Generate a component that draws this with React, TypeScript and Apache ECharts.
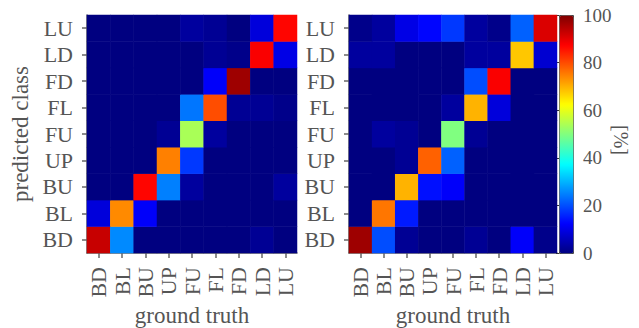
import React, { useEffect, useRef } from "react";
import * as echarts from "echarts";

const classes = ["BD", "BL", "BU", "UP", "FU", "FL", "FD", "LD", "LU"];
const colorbarTicks = [0, 20, 40, 60, 80, 100];

// rows = predicted class (bottom to top), columns = ground truth (left to right), in %
const leftMatrix: number[][] = [
  [93, 26, 0, 0, 0, 0, 0, 2, 0], // BD
  [9, 74, 12, 0, 0, 0, 0, 0, 0], // BL
  [0, 0, 87, 25, 3, 0, 0, 0, 3], // BU
  [0, 0, 0, 75, 18, 0, 0, 0, 0], // UP
  [0, 0, 0, 2, 54, 3, 0, 0, 0], // FU
  [0, 0, 0, 0, 24, 80, 2, 2, 1], // FL
  [0, 0, 0, 0, 0, 12, 97, 0, 0], // FD
  [0, 0, 0, 0, 0, 2, 1, 88, 10], // LD
  [0, 0, 0, 0, 3, 2, 0, 9, 87], // LU
];

const rightMatrix: number[][] = [
  [97, 20, 2, 0, 0, 2, 0, 12, 1], // BD
  [0, 76, 15, 0, 0, 0, 0, 0, 0], // BL
  [0, 0, 70, 14, 12, 0, 0, 0, 0], // BU
  [0, 0, 2, 78, 22, 0, 0, 0, 0], // UP
  [0, 3, 2, 0, 50, 2, 0, 0, 0], // FU
  [0, 0, 0, 0, 3, 70, 9, 0, 0], // FL
  [0, 0, 0, 0, 0, 20, 88, 0, 0], // FD
  [3, 3, 0, 0, 0, 3, 3, 68, 8], // LD
  [1, 3, 10, 13, 18, 3, 1, 22, 91], // LU
];

const jet = ["#000080", "#0000ff", "#0080ff", "#00ffff", "#80ff80", "#ffff00", "#ff8000", "#ff0000", "#800000"];

const toCells = (m: number[][]) => {
  const out: number[][] = [];
  m.forEach((row, y) => row.forEach((v, x) => out.push([x, y, v])));
  return out;
};

const FONT = "Liberation Serif";
const TXT = "#555";
const AX = "#666";

export default function App() {
  const ref = useRef<HTMLDivElement>(null);
  useEffect(() => {
    if (!ref.current) return;
    const chart = echarts.init(ref.current, undefined, { renderer: "svg" });
    const xAxisBase = (gridIndex: number) => ({
      type: "category" as const,
      gridIndex,
      data: classes,
      axisLine: { show: true, lineStyle: { color: AX, width: 1.5 } },
      axisTick: { show: true, alignWithLabel: true, interval: 0, length: 5, lineStyle: { color: AX, width: 1.5 } },
      axisLabel: { interval: 0, rotate: 90, margin: 14, fontFamily: FONT, fontSize: 22, color: TXT },
      splitLine: { show: false },
    });
    const yAxisBase = (gridIndex: number) => ({
      type: "category" as const,
      gridIndex,
      data: classes,
      axisLine: { show: true, lineStyle: { color: AX, width: 1.5 } },
      axisTick: { show: true, alignWithLabel: true, interval: 0, length: 5, lineStyle: { color: AX, width: 1.5 } },
      axisLabel: { interval: 0, margin: 14, fontFamily: FONT, fontSize: 22, color: TXT },
      splitLine: { show: false },
    });
    chart.setOption({
      animation: false,
      backgroundColor: "#fff",
      grid: [
        { left: 87, top: 15, width: 210, height: 238 },
        { left: 349, top: 15, width: 208, height: 238 },
        { left: 559, top: 15, width: 14, height: 238 },
      ],
      xAxis: [
        xAxisBase(0),
        xAxisBase(1),
        { type: "value", gridIndex: 2, show: false, min: 0, max: 1 },
      ],
      yAxis: [
        yAxisBase(0),
        yAxisBase(1),
        {
          type: "value",
          gridIndex: 2,
          position: "right",
          min: 0,
          max: 100,
          interval: 20,
          axisLine: { show: false },
          axisTick: { show: true, inside: true, length: 3, lineStyle: { color: "#333" } },
          axisLabel: { margin: 10, fontFamily: FONT, fontSize: 19, color: TXT, formatter: (v: number) => (colorbarTicks.includes(v) ? String(v) : "") },
          splitLine: { show: false },
        },
      ],
      visualMap: {
        type: "continuous",
        min: 0,
        max: 100,
        seriesIndex: [0, 1],
        calculable: false,
        hoverLink: false,
        left: 559,
        top: 15,
        itemWidth: 14,
        itemHeight: 238,
        padding: 0,
        borderColor: "#444",
        borderWidth: 1,
        inRange: { color: jet },
      },
      series: [
        { type: "heatmap", xAxisIndex: 0, yAxisIndex: 0, data: toCells(leftMatrix), emphasis: { disabled: true }, silent: true },
        { type: "heatmap", xAxisIndex: 1, yAxisIndex: 1, data: toCells(rightMatrix), emphasis: { disabled: true }, silent: true },
      ],
      graphic: [
        { type: "text", x: 20, y: 134, rotation: Math.PI / 2, style: { text: "predicted class", fontFamily: FONT, fontSize: 23, fill: TXT, align: "center", verticalAlign: "middle" } },
        { type: "text", x: 192, y: 315, style: { text: "ground truth", fontFamily: FONT, fontSize: 23, fill: TXT, align: "center", verticalAlign: "middle" } },
        { type: "text", x: 453, y: 315, style: { text: "ground truth", fontFamily: FONT, fontSize: 23, fill: TXT, align: "center", verticalAlign: "middle" } },
        { type: "text", x: 621, y: 140, rotation: -Math.PI / 2, style: { text: "[%]", fontFamily: FONT, fontSize: 20, fill: TXT, align: "center", verticalAlign: "middle" } },
      ],
    });
    return () => chart.dispose();
  }, []);
  return <div ref={ref} style={{ position: "fixed", left: 0, top: 0, width: 639, height: 328 }} />;
}
